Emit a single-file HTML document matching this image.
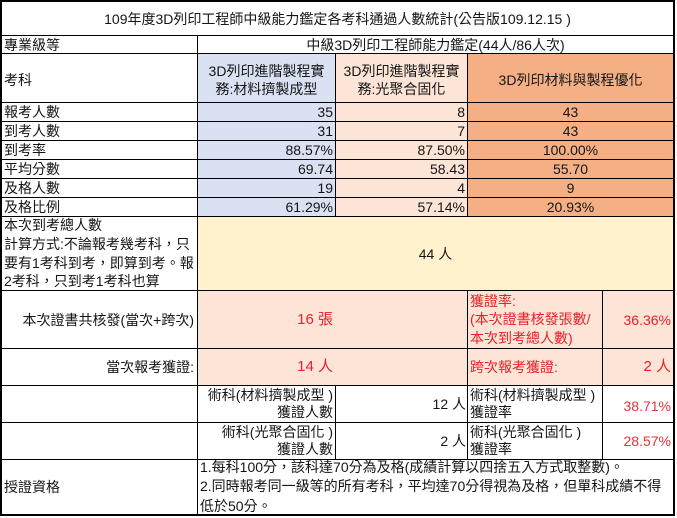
<!DOCTYPE html>
<html><head><meta charset="utf-8">
<style>
html,body{margin:0;padding:0}
body{width:677px;height:518px;background:#fff;position:relative;overflow:hidden;font-family:"Liberation Sans","Noto Sans CJK TC",sans-serif;font-size:14px;color:#151515}
.c{position:absolute;display:flex;align-items:center;white-space:nowrap;line-height:18px;box-sizing:border-box}
.l{justify-content:flex-start;padding-left:2px;text-align:left}
.r{justify-content:flex-end;padding-right:2px;text-align:right}
.m{justify-content:center;text-align:center}
.h{position:absolute;height:1px;background:#000}
.v{position:absolute;width:1px;background:#000}
.red{color:#e8202a}
.red2{color:#e3343a}
.bl{background:#D9E1F2}
.pk{background:#FCE4D6}
.or{background:#F4B084}
.ye{background:#FFF2CC}
.box{position:absolute;left:0;top:0;width:675px;height:516px;border:2px solid #000;box-sizing:border-box}
</style></head><body>

<!-- backgrounds / cells -->
<div class="c m" style="left:2px;top:2px;width:671px;height:33px;">109年度3D列印工程師中級能力鑑定各考科通過人數統計(公告版109.12.15 )</div>

<div class="c l" style="left:2px;top:36px;width:195px;height:17px;">專業級等</div>
<div class="c m" style="left:198px;top:36px;width:475px;height:17px;">中級3D列印工程師能力鑑定(44人/86人次)</div>

<div class="c l" style="left:2px;top:54px;width:195px;height:48px;padding-top:3px;">考科</div>
<div class="c m bl" style="left:198px;top:54px;width:137px;height:48px;padding-top:4px;">3D列印進階製程實<br>務:材料擠製成型</div>
<div class="c m pk" style="left:336px;top:54px;width:131px;height:48px;padding-top:4px;">3D列印進階製程實<br>務:光聚合固化</div>
<div class="c m or" style="left:468px;top:54px;width:205px;height:48px;padding-top:3px;">3D列印材料與製程優化</div>

<!-- data rows -->
<div class="c l" style="left:2px;top:103px;width:195px;height:18px;">報考人數</div>
<div class="c r bl" style="left:198px;top:103px;width:137px;height:18px;">35</div>
<div class="c r pk" style="left:336px;top:103px;width:131px;height:18px;">8</div>
<div class="c m or" style="left:468px;top:103px;width:205px;height:18px;">43</div>

<div class="c l" style="left:2px;top:122px;width:195px;height:18px;">到考人數</div>
<div class="c r bl" style="left:198px;top:122px;width:137px;height:18px;">31</div>
<div class="c r pk" style="left:336px;top:122px;width:131px;height:18px;">7</div>
<div class="c m or" style="left:468px;top:122px;width:205px;height:18px;">43</div>

<div class="c l" style="left:2px;top:141px;width:195px;height:18px;">到考率</div>
<div class="c r bl" style="left:198px;top:141px;width:137px;height:18px;">88.57%</div>
<div class="c r pk" style="left:336px;top:141px;width:131px;height:18px;">87.50%</div>
<div class="c m or" style="left:468px;top:141px;width:205px;height:18px;">100.00%</div>

<div class="c l" style="left:2px;top:160px;width:195px;height:18px;">平均分數</div>
<div class="c r bl" style="left:198px;top:160px;width:137px;height:18px;">69.74</div>
<div class="c r pk" style="left:336px;top:160px;width:131px;height:18px;">58.43</div>
<div class="c m or" style="left:468px;top:160px;width:205px;height:18px;">55.70</div>

<div class="c l" style="left:2px;top:179px;width:195px;height:18px;">及格人數</div>
<div class="c r bl" style="left:198px;top:179px;width:137px;height:18px;">19</div>
<div class="c r pk" style="left:336px;top:179px;width:131px;height:18px;">4</div>
<div class="c m or" style="left:468px;top:179px;width:205px;height:18px;">9</div>

<div class="c l" style="left:2px;top:198px;width:195px;height:18px;">及格比例</div>
<div class="c r bl" style="left:198px;top:198px;width:137px;height:18px;">61.29%</div>
<div class="c r pk" style="left:336px;top:198px;width:131px;height:18px;">57.14%</div>
<div class="c m or" style="left:468px;top:198px;width:205px;height:18px;">20.93%</div>

<!-- total row -->
<div class="c l" style="left:2px;top:217px;width:195px;height:73px;line-height:18.7px;">本次到考總人數<br>計算方式:不論報考幾考科，只<br>要有1考科到考，即算到考。報<br>2考科，只到考1考科也算</div>
<div class="c m ye" style="left:198px;top:217px;width:475px;height:73px;">44 人</div>

<!-- cert row -->
<div class="c r" style="left:2px;top:291px;width:195px;height:57px;padding-right:3px;">本次證書共核發(當次+跨次)</div>
<div class="c pk" style="left:198px;top:291px;width:475px;height:94px;"></div>
<div class="c r red" style="left:198px;top:291px;width:137px;height:57px;font-size:15px;">16 張</div>
<div class="c l red" style="left:468px;top:291px;width:134px;height:57px;line-height:18.5px;">獲證率:<br>(本次證書核發張數/<br>本次到考總人數)</div>
<div class="c r red" style="left:603px;top:291px;width:70px;height:57px;">36.36%</div>

<div class="c r" style="left:2px;top:349px;width:195px;height:36px;padding-right:3px;">當次報考獲證:</div>
<div class="c r red" style="left:198px;top:349px;width:137px;height:36px;font-size:15px;">14 人</div>
<div class="c l red" style="left:468px;top:349px;width:134px;height:36px;">跨次報考獲證:</div>
<div class="c r red" style="left:603px;top:349px;width:70px;height:36px;font-size:15px;">2 人</div>

<!-- subject rows -->
<div class="c r" style="left:198px;top:386px;width:137px;height:36px;line-height:17px;">術科(材料擠製成型 )<br>獲證人數</div>
<div class="c r" style="left:336px;top:386px;width:131px;height:36px;padding-right:1px;">12 人</div>
<div class="c l" style="left:468px;top:386px;width:134px;height:36px;line-height:17px;">術科(材料擠製成型 )<br>獲證率</div>
<div class="c r red2" style="left:603px;top:386px;width:70px;height:36px;padding-top:3px;">38.71%</div>

<div class="c r" style="left:198px;top:423px;width:137px;height:36px;line-height:17px;">術科(光聚合固化 )<br>獲證人數</div>
<div class="c r" style="left:336px;top:423px;width:131px;height:36px;padding-right:1px;">2 人</div>
<div class="c l" style="left:468px;top:423px;width:134px;height:36px;line-height:17px;">術科(光聚合固化 )<br>獲證率</div>
<div class="c r red2" style="left:603px;top:423px;width:70px;height:36px;">28.57%</div>

<!-- last row -->
<div class="c l" style="left:2px;top:460px;width:195px;height:54px;">授證資格</div>
<div class="c l" style="left:198px;top:460px;width:475px;height:54px;line-height:19.5px;">1.每科100分，該科達70分為及格(成績計算以四捨五入方式取整數)。<br>2.同時報考同一級等的所有考科，平均達70分得視為及格，但單科成績不得<br>低於50分。</div>

<!-- horizontal lines -->
<div class="h" style="left:0;top:35px;width:675px"></div>
<div class="h" style="left:0;top:53px;width:675px"></div>
<div class="h" style="left:0;top:102px;width:675px"></div>
<div class="h" style="left:0;top:121px;width:675px"></div>
<div class="h" style="left:0;top:140px;width:675px"></div>
<div class="h" style="left:0;top:159px;width:675px"></div>
<div class="h" style="left:0;top:178px;width:675px"></div>
<div class="h" style="left:0;top:197px;width:675px"></div>
<div class="h" style="left:0;top:216px;width:675px"></div>
<div class="h" style="left:0;top:290px;width:675px"></div>
<div class="h" style="left:0;top:348px;width:675px"></div>
<div class="h" style="left:0;top:385px;width:675px"></div>
<div class="h" style="left:0;top:422px;width:675px"></div>
<div class="h" style="left:0;top:459px;width:675px"></div>

<!-- vertical lines -->
<div class="v" style="left:197px;top:35px;height:481px"></div>
<div class="v" style="left:335px;top:53px;height:163px"></div>
<div class="v" style="left:335px;top:385px;height:74px"></div>
<div class="v" style="left:467px;top:53px;height:163px"></div>
<div class="v" style="left:467px;top:290px;height:169px"></div>
<div class="v" style="left:602px;top:290px;height:169px"></div>

<div class="box"></div>
</body></html>
